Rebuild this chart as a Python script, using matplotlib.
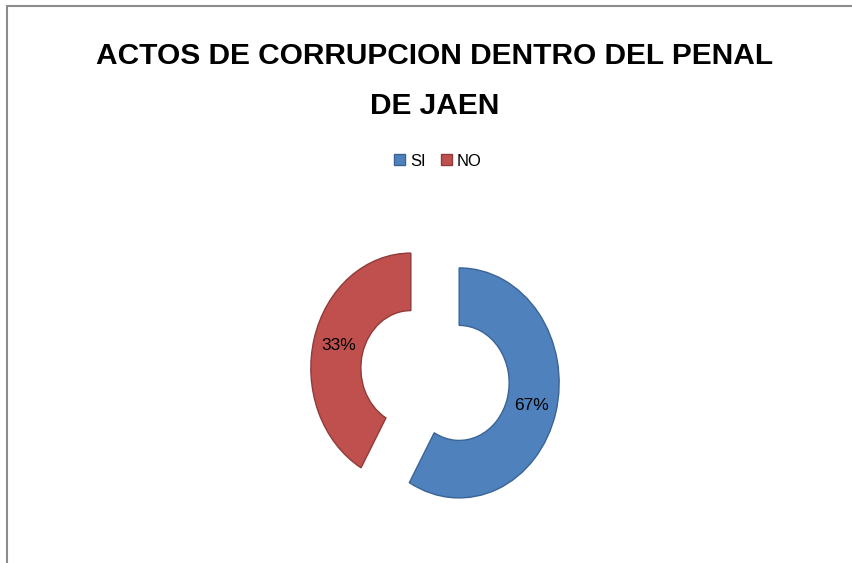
import matplotlib
matplotlib.use("Agg")
import matplotlib.pyplot as plt
from matplotlib.patches import Rectangle

# data
categories = ["SI", "NO"]
values = [58.3, 41.7]          # slice sizes as drawn
pct_labels = ["67%", "33%"]    # labels printed on the slices
colors = ["#4F81BD", "#C0504D"]
edges = ["#3A6496", "#8E3B39"]
title_lines = ["ACTOS DE CORRUPCION DENTRO DEL PENAL", "DE JAEN"]

plt.rcParams['font.family'] = ['Liberation Sans', 'DejaVu Sans']

W, H = 853, 563
fig = plt.figure(figsize=(W / 100, H / 100), dpi=100)
ax = fig.add_axes([0, 0, 1, 1])

lab = iter(pct_labels)
wedges, texts, autotexts = ax.pie(
    values, startangle=90, counterclock=False, colors=colors,
    explode=[0.25, 0.25], autopct=lambda p: next(lab), pctdistance=0.75,
    wedgeprops=dict(width=0.5, linewidth=1.0),
    textprops=dict(fontsize=12.5, color="black"))
for w, ec in zip(wedges, edges):
    w.set_edgecolor(ec)

# pie centre at (435, 375.5) px, radius 100 px wide / 115 px tall
cx, cy = 435, 375.5
ax.set_aspect('auto')
ax.set_xlim(-cx / 100, (W - cx) / 100)
ax.set_ylim(-(H - cy) / 115, cy / 115)
ax.axis('off')

# title, one text per line (baselines at 64 and 114 px from top)
for line, base in zip(title_lines, [64, 114]):
    fig.text(435 / W, 1 - base / H, line, ha='center', va='baseline',
             fontsize=21.5, fontweight='bold')

fig.legend(wedges, categories, loc='center', bbox_to_anchor=(438 / W, 1 - 161 / H),
           ncol=2, frameon=False, fontsize=12, handlelength=0.65, handleheight=0.65,
           handletextpad=0.3, columnspacing=0.9)

# chart area border
fig.add_artist(Rectangle((7.5 / W, -0.1), 1.2, (H - 6.5) / H + 0.1,
                         transform=fig.transFigure, fill=False,
                         edgecolor="#8C8C8C", linewidth=1.5))

fig.savefig("out.png", dpi=100)
